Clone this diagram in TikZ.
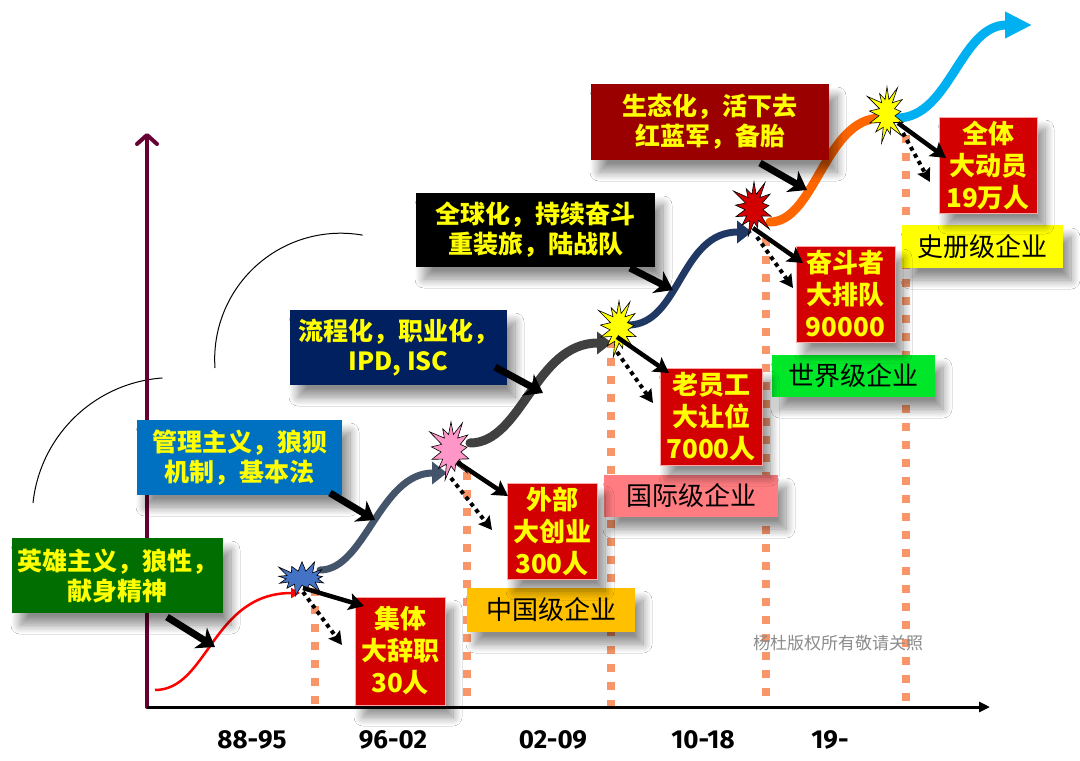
\documentclass[tikz,border=0pt]{standalone}
\usepackage{fontspec}
\setmainfont{Noto Sans CJK SC}
\newfontfamily\axisfont{Fira Sans}
\usetikzlibrary{arrows.meta,shapes.symbols,shadows.blur}
\definecolor{ymaroon}{RGB}{102,0,51}
\definecolor{cgreen}{RGB}{0,110,0}
\definecolor{cblue}{RGB}{0,112,192}
\definecolor{cnavy}{RGB}{0,32,96}
\definecolor{cdred}{RGB}{155,0,0}
\definecolor{rbox}{RGB}{210,0,0}
\definecolor{tyellow}{RGB}{255,255,0}
\definecolor{vdotc}{RGB}{248,150,105}
\definecolor{cgold}{RGB}{255,192,0}
\definecolor{cpink}{RGB}{255,124,128}
\definecolor{clime}{RGB}{0,230,40}
\definecolor{cgb}{RGB}{68,84,106}
\definecolor{cdg}{RGB}{64,64,64}
\definecolor{cnv}{RGB}{31,56,100}
\definecolor{corange}{RGB}{255,102,0}
\definecolor{ccyan}{RGB}{0,176,240}
\definecolor{spink}{RGB}{255,150,200}
\definecolor{sblue}{RGB}{68,114,196}
\begin{document}
\begin{tikzpicture}[x=1pt,y=-1pt,
  shad/.style={blur shadow={shadow xshift=8pt, shadow yshift=-12pt, shadow blur radius=9pt, shadow blur steps=14, shadow opacity=45}},
  cbox/.style={rectangle, inner sep=0pt, align=center, text=tyellow, shad,
    font=\bfseries\fontsize{25}{30}\selectfont},
  rredbox/.style={rectangle, inner sep=0pt, align=center, text=tyellow, fill=rbox, draw=red!35, line width=0.6pt, shad,
    font=\bfseries\fontsize{26}{32}\selectfont},
  stagebox/.style={rectangle, inner sep=0pt, align=center, text=black, shad,
    font=\fontsize{26}{30}\selectfont},
  vdot/.style={draw=vdotc, line width=8pt, dash pattern=on 8pt off 10pt},
  burst/.style={starburst, starburst points=13, starburst point height=17pt, draw=black, line width=0.6pt, inner sep=0pt},
  growth/.style={line cap=round, -{Triangle[length=15pt,width=22pt]}},
  bigarrow/.style={line width=7pt, -{Stealth[length=17pt,width=24pt,inset=5pt]}},
  solidarrow/.style={line width=4.5pt, -{Stealth[length=15pt,width=17pt,inset=3pt]}},
  dotarrow/.style={line width=4pt, dash pattern=on 4pt off 4pt, -{Stealth[length=13pt,width=14pt,inset=2pt]}},
  axislabel/.style={font=\axisfont\bfseries\fontsize{26}{30}\selectfont, text=black}
]
\useasboundingbox (0,0) rectangle (1080,761);
\fill[white] (0,0) rectangle (1080,761);

% decorative arcs
\draw[line width=1pt] (33,503) arc[start angle=186, end angle=266, radius=140];
\draw[line width=1pt] (215,368) arc[start angle=176, end angle=280, radius=126];

% coordinates
\coordinate (O) at (147,707);
\coordinate (Ytop) at (147,133);
\coordinate (Xend) at (990,707);
\coordinate (b1) at (315,707); \coordinate (t1) at (315,588);
\coordinate (b2) at (467,707); \coordinate (t2) at (467,472);
\coordinate (b3) at (611,707); \coordinate (t3) at (611,340);
\coordinate (b4) at (766,707); \coordinate (t4) at (766,238);
\coordinate (b5) at (906,707); \coordinate (t5) at (906,135);

% dotted verticals
\draw[vdot] (t1) -- (b1);
\draw[vdot] (t2) -- (b2);
\draw[vdot] (t3) -- (b3);
\draw[vdot] (t4) -- (b4);
\draw[vdot] (t5) -- (b5);

% axes
\draw[ymaroon, line width=4pt, line cap=round, -{Straight Barb[length=9pt,width=20pt,round]}] (O) -- (Ytop);
\draw[black, line width=3pt, -{Triangle[length=11pt,width=10pt]}] (O) -- (Xend);

% axis labels
\node[axislabel] (l1) at (252,740) {88-95};
\node[axislabel] (l2) at (393,740) {96-02};
\node[axislabel] (l3) at (553,740) {02-09};
\node[axislabel] (l4) at (703,740) {10-18};
\node[axislabel] (l5) at (830,740) {19-};

% growth curves
\coordinate (r0) at (155,690); \coordinate (r1) at (300,593);
\coordinate (g0) at (320,570); \coordinate (g1) at (447,473);
\coordinate (d0) at (470,443); \coordinate (d1) at (612,343);
\coordinate (n0) at (628,325); \coordinate (n1) at (752,232);
\coordinate (o0) at (770,222); \coordinate (o1) at (895,118);
\coordinate (c0) at (897,118); \coordinate (c1) at (1032,25);
\draw[red, line width=2.5pt, -{Triangle[length=9pt,width=10pt]}] (r0) .. controls (208,690) and (212,593) .. (r1);
\draw[cgb, growth, line width=7pt] (g0) .. controls (365,570) and (380,473) .. (g1);
\draw[cdg, growth, line width=9pt] (d0) .. controls (522,443) and (535,343) .. (d1);
\draw[cnv, growth, line width=7pt] (n0) .. controls (680,325) and (680,232) .. (n1);
\draw[corange, growth, line width=9pt] (o0) .. controls (815,222) and (825,118) .. (o1);
\draw[ccyan, growth, line width=9pt, -{Triangle[length=27pt,width=25pt]}] (c0) .. controls (950,118) and (960,25) .. (c1);

% stars
\node[burst, fill=sblue, minimum width=58pt, minimum height=40pt, starburst point height=13pt] (s1) at (302,578) {};
\node[burst, fill=spink, minimum width=54pt, minimum height=66pt] (s2) at (451,450) {};
\node[burst, fill=tyellow, minimum width=52pt, minimum height=64pt] (s3) at (619,328) {};
\node[burst, fill=rbox, minimum width=52pt, minimum height=62pt] (s4) at (754,208) {};
\node[burst, fill=tyellow, minimum width=50pt, minimum height=64pt] (s5) at (887,114) {};

% concept boxes
\node[cbox, fill=cgreen, minimum width=211pt, minimum height=75pt] (cb1) at (117.5,575.5) {英雄主义，狼性，\\献身精神};
\node[cbox, fill=cblue, minimum width=205pt, minimum height=75pt] (cb2) at (239.5,457.5) {管理主义，狼狈\\机制，基本法};
\node[cbox, fill=cnavy, minimum width=217pt, minimum height=75pt] (cb3) at (398.5,347.5) {流程化，职业化，\\IPD, ISC};
\node[cbox, fill=black, minimum width=239pt, minimum height=74pt] (cb4) at (535.5,230) {全球化，持续奋斗\\重装旅，陆战队};
\node[cbox, fill=cdred, minimum width=238pt, minimum height=76pt] (cb5) at (710,122) {生态化，活下去\\红蓝军，备胎};

% stage boxes
\node[stagebox, fill=cgold, minimum width=168pt, minimum height=44pt] (st1) at (551,610) {中国级企业};
\node[stagebox, fill=cpink, minimum width=174pt, minimum height=42pt] (st2) at (691,496) {国际级企业};
\node[stagebox, fill=clime, minimum width=163pt, minimum height=42pt] (st3) at (853.5,376) {世界级企业};
\node[stagebox, fill=tyellow, minimum width=161pt, minimum height=43pt] (st4) at (982.5,246.5) {史册级企业};

% red boxes
\node[rredbox, minimum width=90pt, minimum height=108pt] (rb1) at (400,651) {集体\\大辞职\\30人};
\node[rredbox, minimum width=90pt, minimum height=96pt] (rb2) at (552,531) {外部\\大创业\\300人};
\node[rredbox, minimum width=102pt, minimum height=97pt] (rb3) at (711,416.5) {老员工\\大让位\\7000人};
\node[rredbox, minimum width=99pt, minimum height=96pt] (rb4) at (845.5,294) {奋斗者\\大排队\\90000};
\node[rredbox, minimum width=98pt, minimum height=96pt] (rb5) at (988,165) {全体\\大动员\\19万人};

% concept arrows
\coordinate (a1s) at (167,617); \coordinate (a1e) at (215,647);
\coordinate (a2s) at (330,493); \coordinate (a2e) at (375,520);
\coordinate (a3s) at (495,367); \coordinate (a3e) at (543,393);
\coordinate (a4s) at (630,268); \coordinate (a4e) at (673,290);
\coordinate (a5s) at (760,163); \coordinate (a5e) at (807,190);
\draw[bigarrow] (a1s) -- (a1e);
\draw[bigarrow] (a2s) -- (a2e);
\draw[bigarrow] (a3s) -- (a3e);
\draw[bigarrow] (a4s) -- (a4e);
\draw[bigarrow] (a5s) -- (a5e);

% star arrows
\coordinate (e1) at (364,606); \coordinate (f1) at (342,645);
\coordinate (e2) at (508,496); \coordinate (f2) at (492,530);
\coordinate (e3) at (669,373); \coordinate (f3) at (653,403);
\coordinate (e4) at (803,263); \coordinate (f4) at (793,288);
\coordinate (e5) at (946,158); \coordinate (f5) at (930,182);
\draw[solidarrow] ([shift={(1,10)}]s1.center) -- (e1);
\draw[dotarrow] ([shift={(1,14)}]s1.center) -- (f1);
\draw[solidarrow] ([shift={(6,12)}]s2.center) -- (e2);
\draw[dotarrow] ([shift={(0,28)}]s2.center) -- (f2);
\draw[solidarrow] ([shift={(-2,9)}]s3.center) -- (e3);
\draw[dotarrow] ([shift={(-2,24)}]s3.center) -- (f3);
\draw[solidarrow] ([shift={(-1,20)}]s4.center) -- (e4);
\draw[dotarrow] ([shift={(3,29)}]s4.center) -- (f4);
\draw[solidarrow] ([shift={(11,9)}]s5.center) -- (e5);
\draw[dotarrow] ([shift={(16,19)}]s5.center) -- (f5);

% watermark
\node[text=black!45, font=\fontsize{17}{20}\selectfont] (wm) at (838,643) {杨杜版权所有敬请关照};
\end{tikzpicture}
\end{document}
